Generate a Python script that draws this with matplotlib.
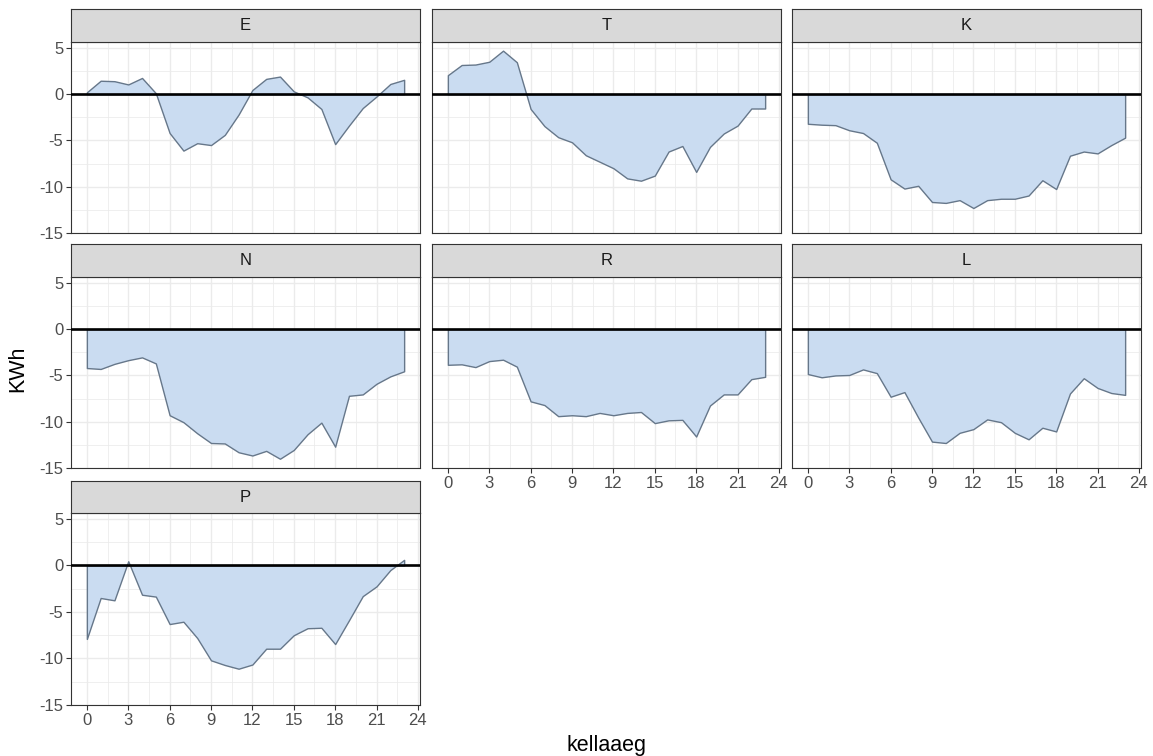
import matplotlib
matplotlib.use("Agg")
import matplotlib.pyplot as plt
import numpy as np

plt.rcParams['font.family'] = ['Liberation Sans', 'DejaVu Sans']
plt.rcParams['axes.unicode_minus'] = False

# --- ANDMED ---
tunnid = list(range(24))
paneelid = ["E", "T", "K", "N", "R", "L", "P"]

E = [0.2, 1.45, 1.4, 1.05, 1.75, 0.1, -4.2, -6.1, -5.3, -5.5, -4.4, -2.2,
     0.45, 1.65, 1.9, 0.3, -0.35, -1.6, -5.4, -3.4, -1.5, -0.25, 1.1, 1.55]
T = [2.05, 3.15, 3.2, 3.5, 4.7, 3.45, -1.6, -3.45, -4.65, -5.2, -6.6, -7.3,
     -8.0, -9.1, -9.35, -8.8, -6.2, -5.6, -8.4, -5.7, -4.25, -3.4, -1.55, -1.55]
K = [-3.2, -3.3, -3.35, -3.9, -4.2, -5.25, -9.2, -10.2, -9.9, -11.65, -11.75, -11.45,
     -12.3, -11.45, -11.3, -11.3, -10.95, -9.3, -10.25, -6.65, -6.2, -6.4, -5.5, -4.7]
N = [-4.2, -4.3, -3.75, -3.35, -3.05, -3.7, -9.3, -10.05, -11.25, -12.3, -12.35, -13.3,
     -13.65, -13.15, -14.0, -13.05, -11.35, -10.1, -12.7, -7.2, -7.05, -5.9, -5.1, -4.55]
R = [-3.85, -3.8, -4.1, -3.45, -3.3, -4.05, -7.8, -8.2, -9.4, -9.3, -9.4, -9.05,
     -9.3, -9.05, -8.95, -10.15, -9.85, -9.8, -11.6, -8.25, -7.05, -7.05, -5.4, -5.15]
L = [-4.85, -5.2, -5.0, -4.95, -4.35, -4.75, -7.3, -6.8, -9.55, -12.15, -12.3, -11.2,
     -10.8, -9.75, -10.05, -11.2, -11.9, -10.65, -11.05, -6.95, -5.3, -6.35, -6.9, -7.1]
P = [-7.9, -3.5, -3.75, 0.45, -3.15, -3.35, -6.3, -6.05, -7.8, -10.2, -10.7, -11.1,
     -10.65, -8.95, -8.95, -7.5, -6.75, -6.7, -8.45, -5.9, -3.3, -2.25, -0.5, 0.6]
andmed = {"E": E, "T": T, "K": K, "N": N, "R": R, "L": L, "P": P}

x_ticks = [0, 3, 6, 9, 12, 15, 18, 21, 24]
y_ticks = [-15, -10, -5, 0, 5]

# --- PAIGUTUS (pikslites) ---
W, H = 1153, 756
veerud = [71, 432, 792]
laius = 349
read = [(42, 233, 9), (277, 468, 244), (513, 705, 481)]  # ylemine, alumine, riba ylemine

fig = plt.figure(figsize=(W / 100, H / 100), dpi=100)

koik = E + T + K + N + R + L + P
ymin, ymax = min(koik + [0]), max(koik + [0])
pad = (ymax - ymin) * 0.05
ylim = (ymin - pad, ymax + pad)
xlim = (-23 * 0.05, 23 * 1.05)

tume = '#333333'
for i, nimi in enumerate(paneelid):
    r, c = divmod(i, 3)
    top, bot, stop = read[r]
    x0 = veerud[c]
    ax = fig.add_axes([x0 / W, 1 - bot / H, laius / W, (bot - top) / H])
    ax.set_xlim(xlim)
    ax.set_ylim(ylim)

    ax.set_xticks(x_ticks)
    ax.set_yticks(y_ticks)
    ax.set_xticks(np.arange(1.5, 24, 3), minor=True)
    ax.set_yticks([-12.5, -7.5, -2.5, 2.5], minor=True)
    ax.grid(which='major', color='#ebebeb', linewidth=1.0)
    ax.grid(which='minor', color='#ebebeb', linewidth=0.55)
    ax.set_axisbelow(True)
    ax.tick_params(which='minor', length=0)
    ax.tick_params(which='major', length=3.5, width=0.8, color=tume,
                   labelsize=12, labelcolor='#4d4d4d', pad=2)

    y = andmed[nimi]
    ax.fill_between(tunnid, y, 0, facecolor='#cadcf1', edgecolor='#66778a',
                    linewidth=1.0, zorder=2)
    ax.axhline(0, color='black', linewidth=1.9, zorder=3)

    for s in ax.spines.values():
        s.set_color(tume)
        s.set_linewidth(0.8)

    # teljed ainult vasakul ja iga veeru allosas
    if c != 0:
        ax.tick_params(axis='y', left=False, labelleft=False)
    alumine = (i + 3) >= len(paneelid)
    if not alumine:
        ax.tick_params(axis='x', bottom=False, labelbottom=False)

    # riba pealkiri
    sax = fig.add_axes([x0 / W, 1 - top / H, laius / W, (top - stop) / H])
    sax.set_facecolor('#d9d9d9')
    sax.set_xticks([])
    sax.set_yticks([])
    for s in sax.spines.values():
        s.set_color(tume)
        s.set_linewidth(0.8)
    sax.text(0.5, 0.5, nimi, ha='center', va='center', fontsize=12,
             color='#1a1a1a', transform=sax.transAxes)

fig.text(18 / W, 1 - 369 / H, 'KWh', rotation=90, ha='center', va='center',
         fontsize=15.5)
fig.text(607 / W, 1 - 745 / H, 'kellaaeg', ha='center', va='center',
         fontsize=15.5)

fig.savefig('out.png', dpi=100)
